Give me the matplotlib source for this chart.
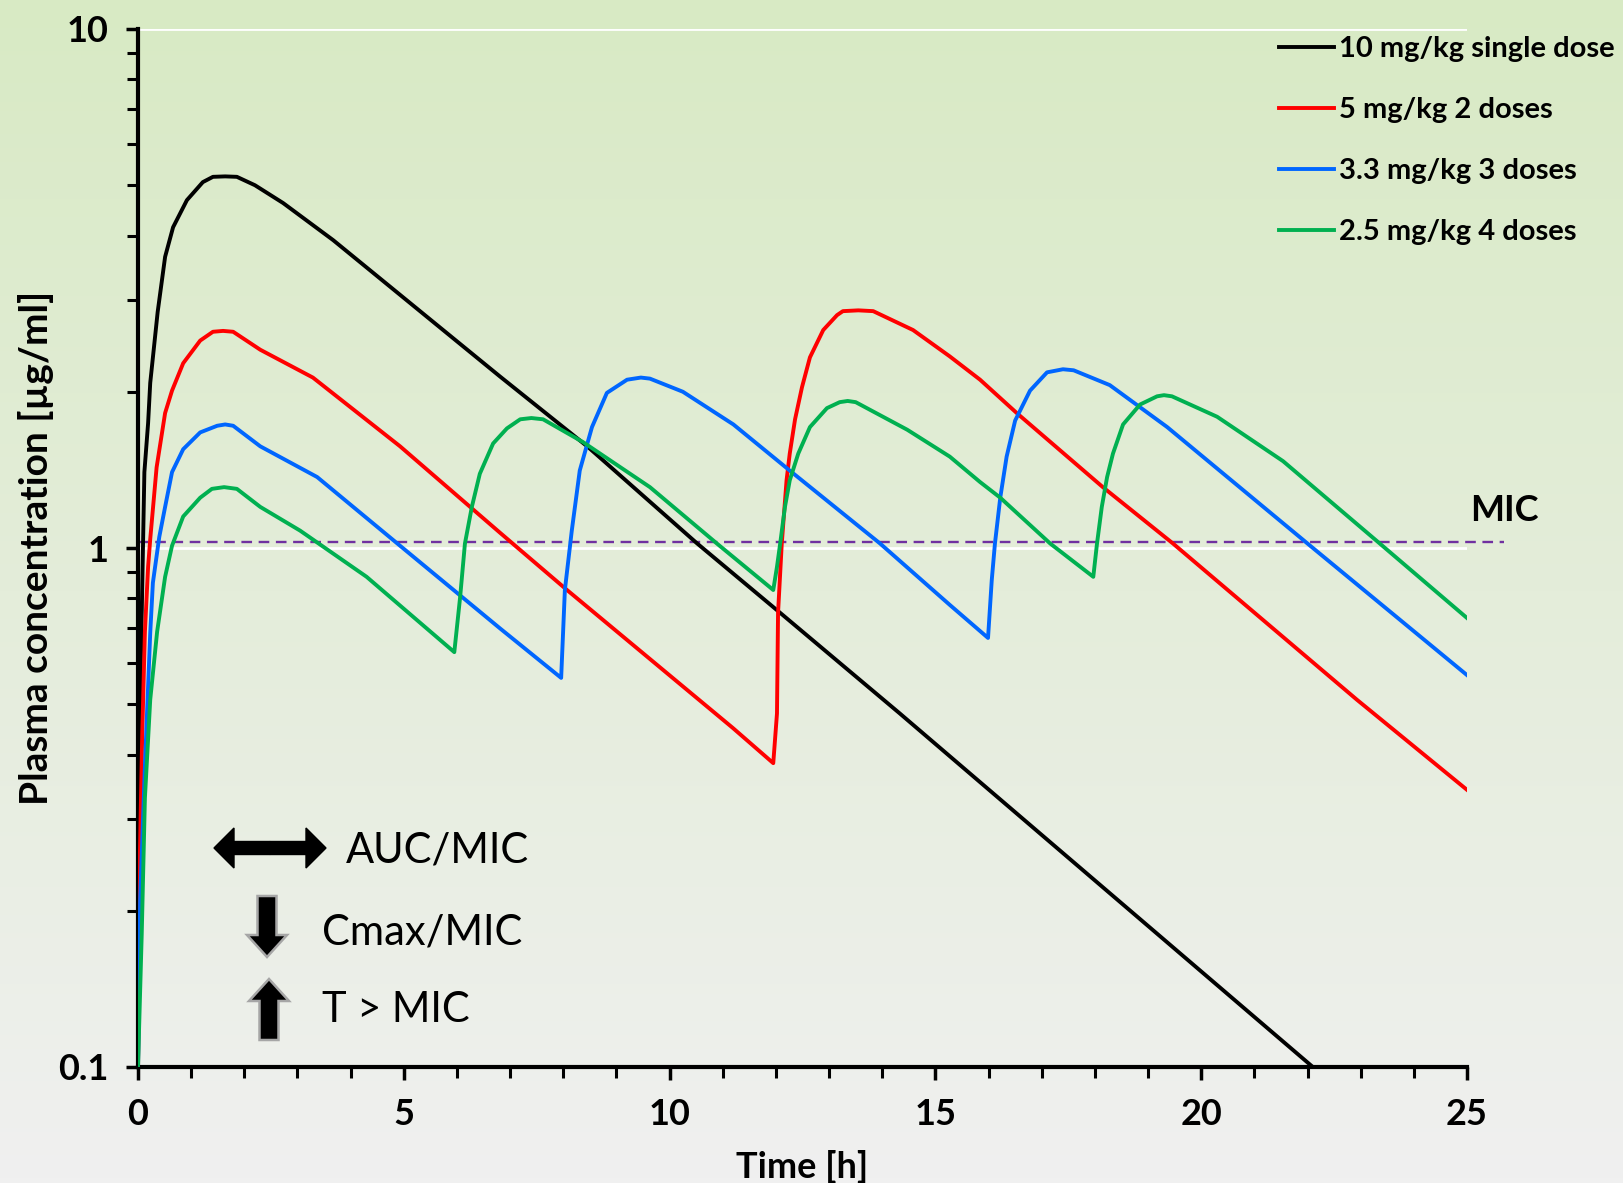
import numpy as np
import matplotlib
matplotlib.use('Agg')
import matplotlib.pyplot as plt
from matplotlib.patches import FancyArrow
from matplotlib.ticker import FixedLocator, NullFormatter

plt.rcParams['font.family'] = ['Lato', 'DejaVu Sans']

# curves (time [h], concentration [ug/ml])
black_t = [0, 0.04, 0.12, 0.19, 0.23, 0.37, 0.51, 0.66, 0.92, 1.22, 1.41, 1.64, 1.86, 2.2, 2.73,
           3.67, 5.74, 6.81, 8.45, 10.52, 12.08, 14.33, 22.1]
black_c = [0.1, 0.51, 1.40, 1.74, 2.08, 2.85, 3.64, 4.15, 4.68, 5.07, 5.19, 5.2, 5.19, 5.0, 4.62,
           3.92, 2.63, 2.14, 1.57, 1.02, 0.75, 0.48, 0.1]

red_t = [0, 0.03, 0.08, 0.13, 0.19, 0.23, 0.35, 0.51, 0.64, 0.85, 1.17, 1.41, 1.6, 1.79, 2.3,
         3.29, 4.93, 6.81, 8.07, 11.19, 11.95, 12.02, 12.04, 12.11, 12.2, 12.26, 12.36, 12.49,
         12.64, 12.89, 13.15, 13.26, 13.55, 13.83, 14.58, 15.27, 15.84, 16.53, 18.15, 19.47, 22.93, 25]
red_c = [0.1, 0.24, 0.44, 0.69, 0.92, 1.04, 1.43, 1.82, 2.01, 2.27, 2.51, 2.61, 2.62, 2.61, 2.41,
         2.13, 1.57, 1.07, 0.83, 0.45, 0.385, 0.48, 0.75, 1.02, 1.35, 1.52, 1.77, 2.04,
         2.33, 2.63, 2.81, 2.86, 2.87, 2.86, 2.63, 2.34, 2.11, 1.82, 1.31, 1.02, 0.51, 0.342]

blue_t = [0, 0.04, 0.13, 0.23, 0.28, 0.4, 0.51, 0.64, 0.85, 1.17, 1.49, 1.64, 1.79, 2.3, 3.37,
          4.93, 6.81, 7.96, 8.03, 8.16, 8.31, 8.54, 8.82, 9.2, 9.46, 9.63, 10.25, 11.2, 12.26,
          13.96, 15.27, 15.99, 16.06, 16.12, 16.22, 16.34, 16.5, 16.78, 17.1, 17.4, 17.6, 18.28,
          19.36, 22.0, 25]
blue_c = [0.1, 0.21, 0.38, 0.686, 0.857, 1.05, 1.20, 1.40, 1.55, 1.67, 1.72, 1.73, 1.72, 1.57, 1.37,
          1.01, 0.70, 0.562, 0.83, 1.08, 1.41, 1.71, 1.99, 2.11, 2.13, 2.12, 2.0, 1.73, 1.41,
          1.02, 0.777, 0.671, 0.867, 1.02, 1.25, 1.50, 1.76, 2.01, 2.18, 2.21, 2.20, 2.06,
          1.71, 1.02, 0.569]

green_t = [0, 0.07, 0.13, 0.23, 0.36, 0.51, 0.64, 0.85, 1.17, 1.39, 1.62, 1.86, 2.3, 3.05, 4.3,
           5.95, 6.06, 6.15, 6.28, 6.43, 6.68, 6.94, 7.19, 7.4, 7.62, 8.37, 9.63, 10.89, 11.95,
           12.02, 12.08, 12.17, 12.26, 12.42, 12.64, 12.96, 13.2, 13.35, 13.5, 14.47, 15.27, 15.84,
           16.22, 17.16, 17.97, 18.04, 18.13, 18.23, 18.34, 18.53, 18.85, 19.17, 19.3, 19.45,
           20.3, 21.54, 23.36, 25]
green_c = [0.1, 0.18, 0.33, 0.51, 0.69, 0.88, 1.01, 1.15, 1.25, 1.30, 1.31, 1.30, 1.2, 1.08, 0.88,
           0.63, 0.805, 1.02, 1.2, 1.39, 1.59, 1.70, 1.77, 1.78, 1.77, 1.60, 1.31, 1.02, 0.83,
           0.92, 1.02, 1.2, 1.35, 1.52, 1.71, 1.86, 1.91, 1.92, 1.91, 1.69, 1.50, 1.34,
           1.25, 1.02, 0.88, 1.02, 1.2, 1.37, 1.52, 1.73, 1.89, 1.96, 1.97, 1.96,
           1.79, 1.47, 1.02, 0.733]

labels = ['10 mg/kg single dose', '5 mg/kg 2 doses', '3.3 mg/kg 3 doses', '2.5 mg/kg 4 doses']
colors = ['#000000', '#ff0000', '#0066ff', '#00b050']
mic = 1.027
mic_end = 25.7

W, H = 1624, 1183
fig = plt.figure(figsize=(W / 100, H / 100), dpi=100)

# background gradient (green top -> light grey bottom)
bg = fig.add_axes([0, 0, 1, 1], zorder=-10)
grad = np.linspace(0, 1, 256)[:, None]
top = np.array([216, 234, 196]) / 255
bot = np.array([240, 240, 240]) / 255
img = top[None, None, :] * (1 - grad[:, :, None]) + bot[None, None, :] * grad[:, :, None]
bg.imshow(img, aspect='auto', extent=[0, 1, 0, 1])
bg.axis('off')

ax = fig.add_axes([138 / W, 1 - 1067 / H, (1467 - 138) / W, (1067 - 29) / H])
ax.set_facecolor('none')
ax.set_yscale('log')
ax.set_xlim(0, 25)
ax.set_ylim(0.1, 10)

series = [(black_t, black_c), (red_t, red_c), (blue_t, blue_c), (green_t, green_c)]
for (t, c), col, lab in zip(series, colors, labels):
    ax.plot(t, c, color=col, lw=2.8, label=lab, zorder=3)

# white major gridlines
for yv in [1, 10]:
    ax.axhline(yv, color='white', lw=2, zorder=1)

ax.plot([0, mic_end], [mic, mic], color='#7030a0', lw=1.7, dashes=(4.5, 2.8),
        clip_on=False, zorder=2)
ax.text(25.05, 1.18, 'MIC', fontsize=26, fontweight='bold', ha='left', va='center')

for s in ['top', 'right']:
    ax.spines[s].set_visible(False)
for s in ['left', 'bottom']:
    ax.spines[s].set_linewidth(3)

ax.yaxis.set_major_locator(FixedLocator([0.1, 1, 10]))
ax.set_yticklabels(['0.1', '1', '10'])
ax.yaxis.set_minor_locator(FixedLocator([k * d for d in [0.1, 1] for k in range(2, 10)]))
ax.yaxis.set_minor_formatter(NullFormatter())
ax.set_xticks(range(0, 26, 5))
ax.set_xticks(range(0, 26), minor=True)
ax.tick_params(axis='both', which='major', length=9, width=2.5, labelsize=26, direction='out')
ax.tick_params(axis='both', which='minor', length=8, width=2.2, direction='out')
ax.tick_params(axis='y', which='major', pad=12)
ax.tick_params(axis='x', which='major', pad=13)
for lbl in ax.get_xticklabels() + ax.get_yticklabels():
    lbl.set_fontweight('bold')

ax.set_xlabel('Time [h]', fontsize=26, fontweight='bold', labelpad=14)
ax.set_ylabel('Plasma concentration [µg/ml]', fontsize=28, fontweight='bold', labelpad=3)

fig.legend(loc='upper left', bbox_to_anchor=(1279 / W, 1 - 36 / H), frameon=False,
           prop={'weight': 'bold', 'size': 21}, handlelength=1.9,
           handletextpad=0.15, labelspacing=1.2, borderpad=0, borderaxespad=0)

# annotation arrows in pixel coordinates
ov = fig.add_axes([0, 0, 1, 1], zorder=5)
ov.set_xlim(0, W)
ov.set_ylim(H, 0)
ov.axis('off')
ov.add_patch(FancyArrow(270, 848, 56, 0, width=13, head_width=40, head_length=20,
                        length_includes_head=True, fc='black', ec='black'))
ov.add_patch(FancyArrow(270, 848, -56, 0, width=13, head_width=40, head_length=20,
                        length_includes_head=True, fc='black', ec='black'))
ov.add_patch(FancyArrow(267, 896, 0, 61, width=19, head_width=40, head_length=22,
                        length_includes_head=True, fc='black', ec='#a6a6a6', lw=1.8))
ov.add_patch(FancyArrow(269, 1040, 0, -61, width=19, head_width=40, head_length=22,
                        length_includes_head=True, fc='black', ec='#a6a6a6', lw=1.8))
ov.text(346, 850, 'AUC/MIC', fontsize=30, ha='left', va='center')
ov.text(322, 932, 'Cmax/MIC', fontsize=30, ha='left', va='center')
ov.text(322, 1010, 'T > MIC', fontsize=30, ha='left', va='center')

fig.savefig('out.png', dpi=100)
